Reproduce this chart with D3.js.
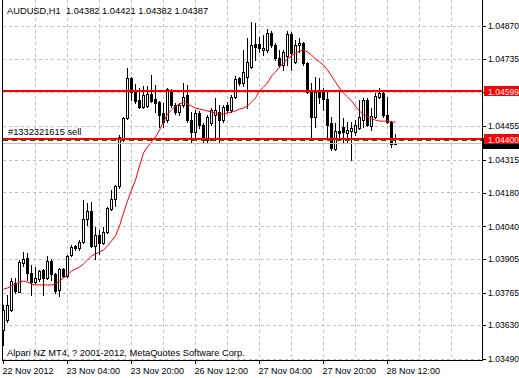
<!DOCTYPE html>
<html>
<head>
<meta charset="utf-8">
<script src="https://cdn.jsdelivr.net/npm/d3@7"></script>
<style>
	body { margin: 0; background: #fff; }
	text { font-family: "Liberation Sans", Arial, sans-serif; font-size: 9px; }
</style>
</head>
<body>
<div id="chart"></div>
<script>
"use strict";

const W = 519, H = 378;

// chart texts
const symbolTitle = "AUDUSD,H1";
const lastBar = [1.04382, 1.04421, 1.04382, 1.04387]; // O H L C of the last bar
const copyrightText = "Alpari NZ MT4, ? 2001-2012, MetaQuotes Software Corp.";
const orderLabel = "#1332321615 sell";

// bottom axis labels, placed at these bar indexes
const timeLabels = ["22 Nov 2012", "23 Nov 04:00", "23 Nov 20:00", "26 Nov 12:00", "27 Nov 04:00", "27 Nov 20:00", "28 Nov 12:00"];
const timeLabelBars = [0, 16, 32, 48, 64, 80, 96];

// right axis labels (1.04595 sits under the red 1.04599 box)
const priceTicks = [1.04870, 1.04735, 1.04595, 1.04455, 1.04315, 1.04180, 1.04040, 1.03905, 1.03765, 1.03630, 1.03490];

// horizontal order lines and bid
const redLevels = [1.04599, 1.04400];
const orderPrice = 1.04400;
const bidPrice = 1.04387;

// H1 bars, oldest first
const open = [
	1.03610,1.03652,1.03693,1.03805,1.03768,1.03888,1.03908,1.03846,1.03809,1.03822,
	1.03859,1.03826,1.03896,1.03842,1.03776,1.03863,1.03834,1.03921,1.03958,1.03950,
	1.03975,1.04070,1.04103,1.03958,1.04004,1.03971,1.04016,1.04112,1.04153,1.04207,
	1.04398,1.04489,1.04654,1.04596,1.04563,1.04534,1.04538,1.04588,1.04567,1.04555,
	1.04509,1.04480,1.04605,1.04543,1.04514,1.04543,1.04584,1.04480,1.04431,1.04509,
	1.04460,1.04398,1.04468,1.04501,1.04514,1.04480,1.04543,1.04522,1.04576,1.04654,
	1.04634,1.04659,1.04700,1.04795,1.04795,1.04770,1.04770,1.04841,1.04791,1.04737,
	1.04708,1.04746,1.04837,1.04721,1.04791,1.04800,1.04717,1.04596,1.04493,1.04596,
	1.04601,1.04567,1.04468,1.04360,1.04435,1.04451,1.04427,1.04435,1.04431,1.04447,
	1.04480,1.04563,1.04456,1.04493,1.04576,1.04592,1.04501,1.04472,1.04382
];
const high = [
	1.03714,1.03755,1.03826,1.03826,1.03900,1.03933,1.03929,1.03880,1.03871,1.03859,
	1.03863,1.03917,1.03904,1.03846,1.03867,1.03867,1.03921,1.03962,1.03962,1.03983,
	1.04149,1.04136,1.04141,1.04037,1.04025,1.04037,1.04120,1.04190,1.04211,1.04418,
	1.04493,1.04696,1.04659,1.04630,1.04613,1.04621,1.04621,1.04667,1.04625,1.04559,
	1.04551,1.04613,1.04609,1.04551,1.04551,1.04634,1.04625,1.04514,1.04522,1.04518,
	1.04468,1.04501,1.04530,1.04572,1.04543,1.04543,1.04555,1.04584,1.04663,1.04659,
	1.04770,1.04820,1.04887,1.04882,1.04824,1.04833,1.04858,1.04849,1.04800,1.04770,
	1.04770,1.04849,1.04845,1.04812,1.04820,1.04804,1.04721,1.04634,1.04659,1.04654,
	1.04613,1.04596,1.04493,1.04468,1.04596,1.04489,1.04472,1.04472,1.04480,1.04563,
	1.04572,1.04572,1.04530,1.04592,1.04613,1.04596,1.04576,1.04476,1.04421
];
const low = [
	1.03548,1.03643,1.03689,1.03763,1.03768,1.03875,1.03817,1.03755,1.03805,1.03813,
	1.03755,1.03822,1.03817,1.03763,1.03751,1.03830,1.03830,1.03917,1.03942,1.03942,
	1.03971,1.04045,1.03954,1.03904,1.03925,1.03967,1.04012,1.04107,1.04124,1.04199,
	1.04393,1.04485,1.04563,1.04551,1.04530,1.04530,1.04534,1.04555,1.04514,1.04451,
	1.04451,1.04472,1.04534,1.04505,1.04501,1.04534,1.04472,1.04385,1.04398,1.04447,
	1.04389,1.04389,1.04460,1.04398,1.04389,1.04472,1.04514,1.04514,1.04572,1.04625,
	1.04621,1.04530,1.04696,1.04729,1.04762,1.04750,1.04762,1.04783,1.04729,1.04700,
	1.04688,1.04708,1.04688,1.04717,1.04762,1.04708,1.04592,1.04410,1.04451,1.04551,
	1.04522,1.04406,1.04356,1.04356,1.04398,1.04389,1.04389,1.04315,1.04418,1.04443,
	1.04451,1.04456,1.04439,1.04489,1.04572,1.04493,1.04468,1.04369,1.04382
];
const close = [
	1.03693,1.03714,1.03813,1.03772,1.03892,1.03904,1.03846,1.03809,1.03826,1.03855,
	1.03826,1.03896,1.03842,1.03772,1.03863,1.03834,1.03917,1.03954,1.03950,1.03975,
	1.04070,1.04103,1.03958,1.04004,1.03971,1.04016,1.04116,1.04153,1.04207,1.04410,
	1.04489,1.04654,1.04596,1.04559,1.04534,1.04584,1.04588,1.04559,1.04551,1.04501,
	1.04472,1.04609,1.04543,1.04514,1.04543,1.04576,1.04480,1.04431,1.04509,1.04460,
	1.04398,1.04493,1.04522,1.04522,1.04480,1.04534,1.04522,1.04576,1.04650,1.04634,
	1.04679,1.04721,1.04791,1.04783,1.04779,1.04779,1.04841,1.04791,1.04737,1.04708,
	1.04762,1.04837,1.04758,1.04791,1.04800,1.04717,1.04596,1.04493,1.04596,1.04576,
	1.04567,1.04460,1.04364,1.04435,1.04427,1.04431,1.04439,1.04447,1.04460,1.04493,
	1.04563,1.04460,1.04497,1.04580,1.04592,1.04501,1.04472,1.04381,1.04387
];
// moving average
const ma = [
	1.03780,1.03784,1.03793,1.03801,1.03809,1.03813,1.03809,1.03801,1.03797,1.03797,
	1.03797,1.03797,1.03797,1.03801,1.03813,1.03826,1.03838,1.03855,1.03863,1.03871,
	1.03884,1.03900,1.03917,1.03925,1.03933,1.03942,1.03958,1.03979,1.04000,1.04041,
	1.04095,1.04145,1.04190,1.04232,1.04290,1.04344,1.04369,1.04389,1.04410,1.04439,
	1.04472,1.04505,1.04522,1.04538,1.04547,1.04555,1.04547,1.04538,1.04530,1.04526,
	1.04522,1.04518,1.04514,1.04509,1.04505,1.04505,1.04509,1.04514,1.04518,1.04526,
	1.04530,1.04538,1.04555,1.04572,1.04601,1.04617,1.04634,1.04663,1.04679,1.04700,
	1.04717,1.04733,1.04746,1.04758,1.04766,1.04770,1.04762,1.04750,1.04733,1.04721,
	1.04708,1.04688,1.04663,1.04638,1.04613,1.04592,1.04576,1.04559,1.04538,1.04518,
	1.04501,1.04493,1.04485,1.04480,1.04476,1.04476,1.04476,1.04472,1.04472
];

// plot frame
const left = 2, right = 482, bottom = 360;

const x = d3.scaleLinear().domain([0, 120]).range([3, 483]); // 4px per bar
const y = d3.scaleLinear().domain([1.0349, 1.0487]).range([359, 26]);
const fmt = d3.format(".5f");

const svg = d3.select("#chart").append("svg")
	.attr("width", W)
	.attr("height", H)
	.attr("viewBox", `0 0 ${W} ${H}`)
	.style("display", "block");

svg.append("rect").attr("width", W).attr("height", H).attr("fill", "#fff");

// grid
const grid = svg.append("g")
	.attr("stroke", "#c0c0c0")
	.attr("stroke-dasharray", "3,3")
	.attr("shape-rendering", "crispEdges");

grid.selectAll(".hgrid")
	.data(priceTicks)
	.enter()
	.append("line")
	.attr("x1", left + 1).attr("x2", right)
	.attr("y1", d => Math.round(y(d)) + 0.5)
	.attr("y2", d => Math.round(y(d)) + 0.5);

grid.selectAll(".vgrid")
	.data(d3.range(8, 120, 8))
	.enter()
	.append("line")
	.attr("x1", d => x(d) + 0.5).attr("x2", d => x(d) + 0.5)
	.attr("y1", 0).attr("y2", bottom);

// candles
const bars = d3.range(open.length);
const candles = svg.append("g").attr("shape-rendering", "crispEdges");

candles.selectAll(".wick")
	.data(bars)
	.enter()
	.append("rect")
	.attr("x", i => x(i))
	.attr("y", i => Math.round(y(high[i])))
	.attr("width", 1)
	.attr("height", i => Math.round(y(low[i])) - Math.round(y(high[i])) + 1)
	.attr("fill", "#000");

candles.selectAll(".body")
	.data(bars)
	.enter()
	.append("rect")
	.attr("x", i => x(i) - 1)
	.attr("y", i => Math.round(y(Math.max(open[i], close[i]))))
	.attr("width", 3)
	.attr("height", i => Math.round(y(Math.min(open[i], close[i]))) - Math.round(y(Math.max(open[i], close[i]))) + 1)
	.attr("fill", "#000");

// bull candles are hollow
candles.selectAll(".hollow")
	.data(bars.filter(i => close[i] > open[i] && Math.round(y(open[i])) - Math.round(y(close[i])) >= 2))
	.enter()
	.append("rect")
	.attr("x", i => x(i))
	.attr("y", i => Math.round(y(close[i])) + 1)
	.attr("width", 1)
	.attr("height", i => Math.round(y(open[i])) - Math.round(y(close[i])) - 1)
	.attr("fill", "#fff");

// moving average
svg.append("path")
	.datum(ma)
	.attr("fill", "none")
	.attr("stroke", "#ff0000")
	.attr("stroke-width", 1)
	.attr("d", d3.line().x((d, i) => x(i) + 0.5).y(d => y(d)));

// bid line, order line and red levels
svg.append("line")
	.attr("x1", left + 1).attr("x2", right)
	.attr("y1", Math.round(y(bidPrice)) + 0.5).attr("y2", Math.round(y(bidPrice)) + 0.5)
	.attr("stroke", "#c0c0c0")
	.attr("shape-rendering", "crispEdges");

svg.append("line")
	.attr("x1", left + 1).attr("x2", right)
	.attr("y1", Math.round(y(orderPrice)) + 1.5).attr("y2", Math.round(y(orderPrice)) + 1.5)
	.attr("stroke", "#007000")
	.attr("stroke-dasharray", "5,4")
	.attr("shape-rendering", "crispEdges");

svg.selectAll(".level")
	.data(redLevels)
	.enter()
	.append("rect")
	.attr("x", left + 1)
	.attr("width", right - left - 1)
	.attr("y", d => Math.round(y(d)) - 1)
	.attr("height", 2)
	.attr("fill", "#ff0000")
	.attr("shape-rendering", "crispEdges");

svg.append("text")
	.attr("x", 8)
	.attr("y", Math.round(y(orderPrice)) - 4)
	.style("font-size", "9.3px")
	.text(orderLabel);

// texts on the chart
svg.append("text")
	.attr("x", 7)
	.attr("y", 14)
	.attr("xml:space", "preserve")
	.style("white-space", "pre")
	.style("font-size", "9.3px")
	.text(symbolTitle + "  " + lastBar.map(fmt).join(" "));

svg.append("text")
	.attr("x", 7)
	.attr("y", 356)
	.style("font-size", "9.3px")
	.text(copyrightText);

// right price axis
const yAxis = svg.append("g")
	.attr("transform", `translate(${right},0)`)
	.call(d3.axisRight(y).tickValues(priceTicks).tickFormat(fmt).tickSize(4).tickPadding(2));
yAxis.select(".domain").remove();
yAxis.selectAll("text").attr("fill", "#000").style("font-size", "8.6px").style("font-family", "Liberation Sans, Arial, sans-serif");
yAxis.selectAll("line").attr("stroke", "#000").attr("shape-rendering", "crispEdges");

// bottom time axis
const xAxis = svg.append("g")
	.attr("transform", `translate(0,${bottom})`)
	.call(d3.axisBottom(x).tickValues(timeLabelBars).tickFormat((d, i) => timeLabels[i]).tickSize(4).tickPadding(4));
xAxis.select(".domain").remove();
xAxis.selectAll("text").attr("text-anchor", "start").attr("dx", -1).attr("fill", "#000")
	.style("font-size", "9px").style("font-family", "Liberation Sans, Arial, sans-serif");
xAxis.selectAll("line").attr("stroke", "#000").attr("shape-rendering", "crispEdges");

// bid label (black) under the red price labels
svg.append("rect")
	.attr("x", right + 1).attr("y", Math.round(y(bidPrice)) - 5)
	.attr("width", W - right).attr("height", 11)
	.attr("fill", "#000");

const levelTags = svg.selectAll(".tag")
	.data(redLevels)
	.enter()
	.append("g");
levelTags.append("rect")
	.attr("x", right + 2).attr("y", d => Math.round(y(d)) - 5)
	.attr("width", W - right - 2).attr("height", 10)
	.attr("fill", "#ff0000");
levelTags.append("text")
	.attr("x", right + 6).attr("y", d => Math.round(y(d)) + 3.5)
	.attr("fill", "#fff")
	.style("font-size", "8.6px")
	.text(d => fmt(d));

// frame
svg.append("path")
	.attr("d", `M${left + 0.5},0V${bottom + 0.5}H${right + 0.5}V0`)
	.attr("fill", "none")
	.attr("stroke", "#000")
	.attr("shape-rendering", "crispEdges");
</script>
</body>
</html>
